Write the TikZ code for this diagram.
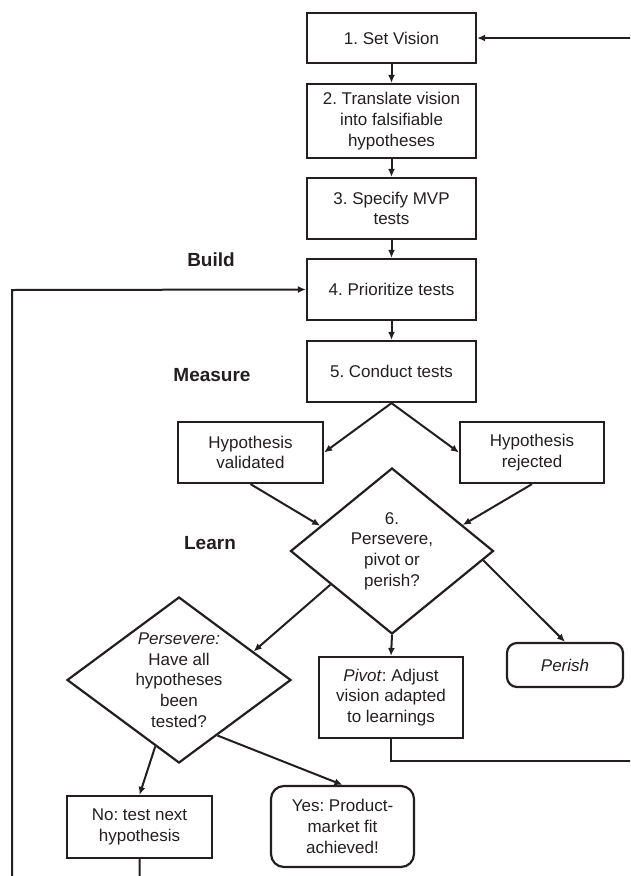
\documentclass[tikz,border=0pt]{standalone}
\usepackage{fontspec}
\setmainfont{Liberation Sans}
\frenchspacing
\usetikzlibrary{arrows.meta,shapes.geometric,calc}
\definecolor{ink}{RGB}{35,31,32}
\begin{document}
\begin{tikzpicture}[x=1pt,y=-1pt,
  every node/.style={text=ink, font=\fontsize{17pt}{20.7pt}\selectfont},
  stepbox/.style={draw=ink, line width=2.2pt, rectangle, align=center, inner sep=0pt},
  endbox/.style={stepbox, rounded corners=10pt},
  decision/.style={draw=ink, line width=2.2pt, diamond, inner sep=0pt},
  inside/.style={align=center, inner sep=0pt},
  phase/.style={font=\bfseries\fontsize{19pt}{22pt}\selectfont},
  link/.style={draw=ink, line width=2pt, -{Latex[length=8pt,width=7pt]}},
  plain/.style={draw=ink, line width=2pt}]

% page frame
\useasboundingbox (0,0) rectangle (630,876);
\clip (0,0) rectangle (630,876);

% main steps
\node[stepbox, minimum width=169, minimum height=50] (s1) at (391.5,38) {1. Set Vision};
\node[stepbox, minimum width=169, minimum height=74] (s2) at (391.5,121) {2. Translate vision\\into falsifiable\\hypotheses};
\node[stepbox, minimum width=169, minimum height=61] (s3) at (391.5,208.5) {3. Specify MVP\\tests};
\node[stepbox, minimum width=169, minimum height=61] (s4) at (391.5,289.5) {4. Prioritize tests};
\node[stepbox, minimum width=169, minimum height=61] (s5) at (391.5,371.5) {5. Conduct tests};

% test outcomes
\node[stepbox, minimum width=145, minimum height=61] (hv) at (250.5,452.5) {Hypothesis\\validated};
\node[stepbox, minimum width=144, minimum height=61] (hr) at (532,452.5) {Hypothesis\\rejected};

% decision 6
\node[decision, minimum width=203, minimum height=166] (d6) at (392,551) {};
\node[inside] (d6t) at (d6) {6.\\Persevere,\\pivot or\\perish?};

% persevere decision
\node[decision, minimum width=224, minimum height=166] (pv) at (179,680) {};
\node[inside] (pvt) at (pv) {\itshape Persevere:\\Have all\\hypotheses\\been\\tested?};

% outcomes of decision 6
\node[stepbox, minimum width=144, minimum height=81] (pivot) at (391,697.5) {\textit{Pivot}: Adjust\\vision adapted\\to learnings};
\node[endbox, minimum width=116, minimum height=44] (perish) at (565,665) {\itshape Perish};

% outcomes of the persevere decision
\node[stepbox, minimum width=145, minimum height=62] (no) at (139.5,827) {No: test next\\hypothesis};
\node[endbox, rounded corners=13pt, minimum width=143, minimum height=81] (yes) at (342.5,826.5) {Yes: Product-\\market fit\\achieved!};

% phase labels
\node[phase] (build) at (211,260) {Build};
\node[phase] (measure) at (212,375) {Measure};
\node[phase] (learn) at (210,543) {Learn};

% forward flow
\draw[link] (s1) -- (s2);
\draw[link] (s2) -- (s3);
\draw[link] (s3) -- (s4);
\draw[link] (s4) -- (s5);
\draw[link] (s5.south) -- (hv.east);
\draw[link] (s5.south) -- (hr.west);
\draw[link] (hv.south) -- ($(d6.west)!0.3!(d6.north)$);
\draw[link] (hr.south) -- ($(d6.north)!0.69!(d6.east)$);
\draw[link] ($(d6.west)!0.4!(d6.south)$) -- ($(pv.north)!0.66!(pv.east)$);
\draw[link] (d6.south) -- (pivot.north);
\draw[link] ($(d6.east)!0.11!(d6.south)$) -- (perish.north);
\draw[link] ($(pv.west)!0.79!(pv.south)$) -- (no.north);
\draw[link] ($(pv.east)!0.66!(pv.south)$) -- (yes.north);

% feedback loops
\coordinate (loopbottom) at (139.5,900);
\coordinate (loopleft) at (12,290);
\coordinate (loopright) at (650,761);
\draw[link] (no.south) -- (loopbottom) -| (loopleft) -- (s4.west);
\draw[link] (pivot.south) |- (loopright) |- (s1.east);
\end{tikzpicture}
\end{document}
